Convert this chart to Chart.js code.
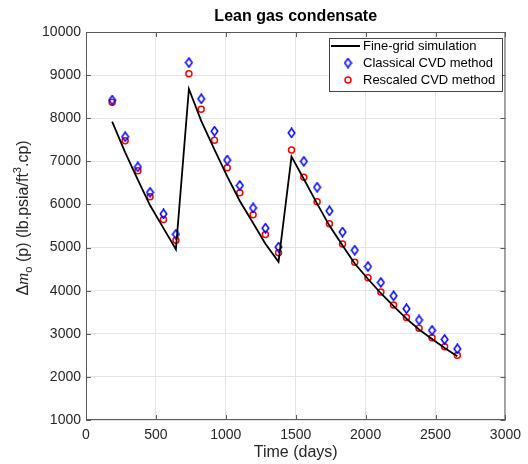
<!DOCTYPE html>
<html>
<head>
<meta charset="utf-8">
<script src="https://cdn.jsdelivr.net/npm/chart.js@4.4.1/dist/chart.umd.min.js"></script>
<style>
  html, body { margin: 0; padding: 0; background: #fff; }
  #wrap { width: 528px; height: 464px; }
</style>
</head>
<body>
<div id="wrap"><canvas id="cvdChart" width="528" height="464"></canvas></div>
<script>
// reporting steps (days)
const timeDays = [187, 280, 371, 458, 554, 643, 736, 824, 919, 1010, 1100, 1195, 1283, 1377,
                  1470, 1558, 1653, 1741, 1835, 1922, 2017, 2109, 2200, 2292, 2382, 2475, 2565, 2656];
// fine-grid simulation
const simValues = [7920, 7210, 6570, 5980, 5450, 4960, 8680, 7940, 7270, 6650, 6080, 5570, 5090, 4670,
                   7110, 6590, 6020, 5510, 5050, 4630, 4270, 3940, 3640, 3350, 3100, 2880, 2670, 2480];
// classical CVD method
const classicalCVD = [8420, 7570, 6870, 6280, 5780, 5310, 9290, 8450, 7700, 7030, 6440, 5920, 5450, 5010,
                      7660, 7000, 6400, 5850, 5360, 4940, 4560, 4190, 3880, 3580, 3320, 3080, 2870, 2650];
// rescaled CVD method
const rescaledCVD = [8370, 7480, 6780, 6180, 5650, 5170, 9030, 8210, 7490, 6850, 6270, 5760, 5300, 4880,
                     7260, 6630, 6060, 5550, 5080, 4660, 4300, 3970, 3670, 3380, 3130, 2910, 2700, 2500];

const xTickValues = [0, 500, 1000, 1500, 2000, 2500, 3000];
const yTickValues = [1000, 2000, 3000, 4000, 5000, 6000, 7000, 8000, 9000, 10000];

const FONT = "'Liberation Sans', Arial, Helvetica, sans-serif";
const AXIS_COLOR = '#5a5a5a';
const TEXT_COLOR = '#262626';

// tall diamond marker
function makeDiamond(color) {
    const c = document.createElement('canvas');
    c.width = 9; c.height = 11;
    const g = c.getContext('2d');
    g.strokeStyle = color;
    g.lineWidth = 1.5;
    g.beginPath();
    g.moveTo(4.5, 1);
    g.lineTo(7.8, 5.5);
    g.lineTo(4.5, 10);
    g.lineTo(1.2, 5.5);
    g.closePath();
    g.stroke();
    return c;
}
const diamond = makeDiamond('#0000ff');

const toXY = vals => vals.map((v, i) => ({ x: timeDays[i], y: v }));

// box, inward ticks, title, axis labels and legend
const decorations = {
    id: 'decorations',
    afterDraw(chart) {
        const { ctx, chartArea: a, scales } = chart;
        ctx.save();

        // inward ticks on all four sides
        ctx.strokeStyle = AXIS_COLOR;
        ctx.lineWidth = 1;
        ctx.beginPath();
        xTickValues.forEach(v => {
            const px = Math.round(scales.x.getPixelForValue(v)) + 0.5;
            ctx.moveTo(px, a.bottom); ctx.lineTo(px, a.bottom - 5);
            ctx.moveTo(px, a.top); ctx.lineTo(px, a.top + 5);
        });
        yTickValues.forEach(v => {
            const py = Math.round(scales.y.getPixelForValue(v)) + 0.5;
            ctx.moveTo(a.left, py); ctx.lineTo(a.left + 5, py);
            ctx.moveTo(a.right, py); ctx.lineTo(a.right - 5, py);
        });
        ctx.stroke();
        ctx.strokeRect(a.left + 0.5, a.top + 0.5, a.right - a.left - 1, a.bottom - a.top - 1);

        const cx = (a.left + a.right) / 2;

        // title
        ctx.fillStyle = '#000';
        ctx.font = 'bold 16px ' + FONT;
        ctx.textAlign = 'center';
        ctx.textBaseline = 'middle';
        ctx.fillText('Lean gas condensate', cx, 17);

        // x axis title
        ctx.fillStyle = TEXT_COLOR;
        ctx.font = '16px ' + FONT;
        ctx.fillText('Time (days)', cx, 453);

        // y axis title, built from pieces (italic m, subscript o, superscript 3)
        const parts = [
            { t: '\u0394', f: '16px ' + FONT, dy: 0 },
            { t: 'm', f: 'italic 17px "Liberation Serif", serif', dy: 0 },
            { t: 'o', f: '11px ' + FONT, dy: 4 },
            { t: ' (p) (lb.psia/ft', f: '16px ' + FONT, dy: 0 },
            { t: '3', f: '11px ' + FONT, dy: -7 },
            { t: '.cp)', f: '16px ' + FONT, dy: 0 }
        ];
        let total = 0;
        parts.forEach(p => { ctx.font = p.f; p.w = ctx.measureText(p.t).width; total += p.w; });
        ctx.translate(28, 218);
        ctx.rotate(-Math.PI / 2);
        ctx.textAlign = 'left';
        ctx.textBaseline = 'alphabetic';
        let pos = -total / 2;
        parts.forEach(p => {
            ctx.font = p.f;
            ctx.fillText(p.t, pos, p.dy);
            pos += p.w;
        });
        ctx.setTransform(1, 0, 0, 1, 0, 0);

        // legend
        const lx = 329, ly = 38, lw = 173, lh = 53;
        ctx.fillStyle = '#fff';
        ctx.fillRect(lx, ly, lw, lh);
        ctx.strokeStyle = '#444';
        ctx.strokeRect(lx + 0.5, ly + 0.5, lw, lh);

        const ds = chart.data.datasets;
        const rows = [ly + 8, ly + 25, ly + 42];
        ctx.font = '13px ' + FONT;
        ctx.textAlign = 'left';
        ctx.textBaseline = 'middle';

        ctx.strokeStyle = ds[0].borderColor;
        ctx.lineWidth = 2;
        ctx.beginPath();
        ctx.moveTo(lx + 2, rows[0]); ctx.lineTo(lx + 31, rows[0]);
        ctx.stroke();

        ctx.drawImage(diamond, lx + 19 - diamond.width / 2, rows[1] - diamond.height / 2);

        ctx.strokeStyle = ds[2].borderColor;
        ctx.lineWidth = 1.5;
        ctx.beginPath();
        ctx.arc(lx + 19, rows[2], 3, 0, Math.PI * 2);
        ctx.stroke();

        ctx.fillStyle = '#000';
        ds.forEach((d, i) => ctx.fillText(d.label, lx + 34, rows[i]));

        ctx.restore();
    }
};

new Chart(document.getElementById('cvdChart'), {
    type: 'scatter',
    data: {
        datasets: [{
            label: 'Fine-grid simulation',
            data: toXY(simValues),
            showLine: true,
            borderColor: '#000000',
            borderWidth: 1.8,
            pointRadius: 0,
            tension: 0
        }, {
            label: 'Classical CVD method',
            data: toXY(classicalCVD),
            pointStyle: diamond,
            borderColor: '#0000ff',
            backgroundColor: 'rgba(0,0,0,0)'
        }, {
            label: 'Rescaled CVD method',
            data: toXY(rescaledCVD),
            pointStyle: 'circle',
            pointRadius: 3,
            borderWidth: 1.5,
            borderColor: '#ff0000',
            backgroundColor: 'rgba(0,0,0,0)'
        }]
    },
    options: {
        responsive: false,
        animation: false,
        devicePixelRatio: 1,
        layout: { padding: { left: 0, right: 21, top: 32, bottom: 0 } },
        plugins: {
            legend: { display: false },
            title: { display: false },
            tooltip: { enabled: false }
        },
        scales: {
            x: {
                type: 'linear',
                min: 0,
                max: 3000,
                afterBuildTicks: s => { s.ticks = xTickValues.map(v => ({ value: v })); },
                afterFit: s => { s.height = 44; },
                grid: { color: '#e4e4e4', drawTicks: false },
                border: { display: false },
                ticks: { padding: 7, color: TEXT_COLOR, font: { family: FONT, size: 14 },
                         callback: v => String(v) }
            },
            y: {
                type: 'linear',
                min: 1000,
                max: 10000,
                afterBuildTicks: s => { s.ticks = yTickValues.map(v => ({ value: v })); },
                afterFit: s => { s.width = 86; },
                grid: { color: '#e4e4e4', drawTicks: false },
                border: { display: false },
                ticks: { padding: 5, color: TEXT_COLOR, font: { family: FONT, size: 14 },
                         callback: v => String(v) }
            }
        }
    },
    plugins: [decorations]
});
</script>
</body>
</html>
